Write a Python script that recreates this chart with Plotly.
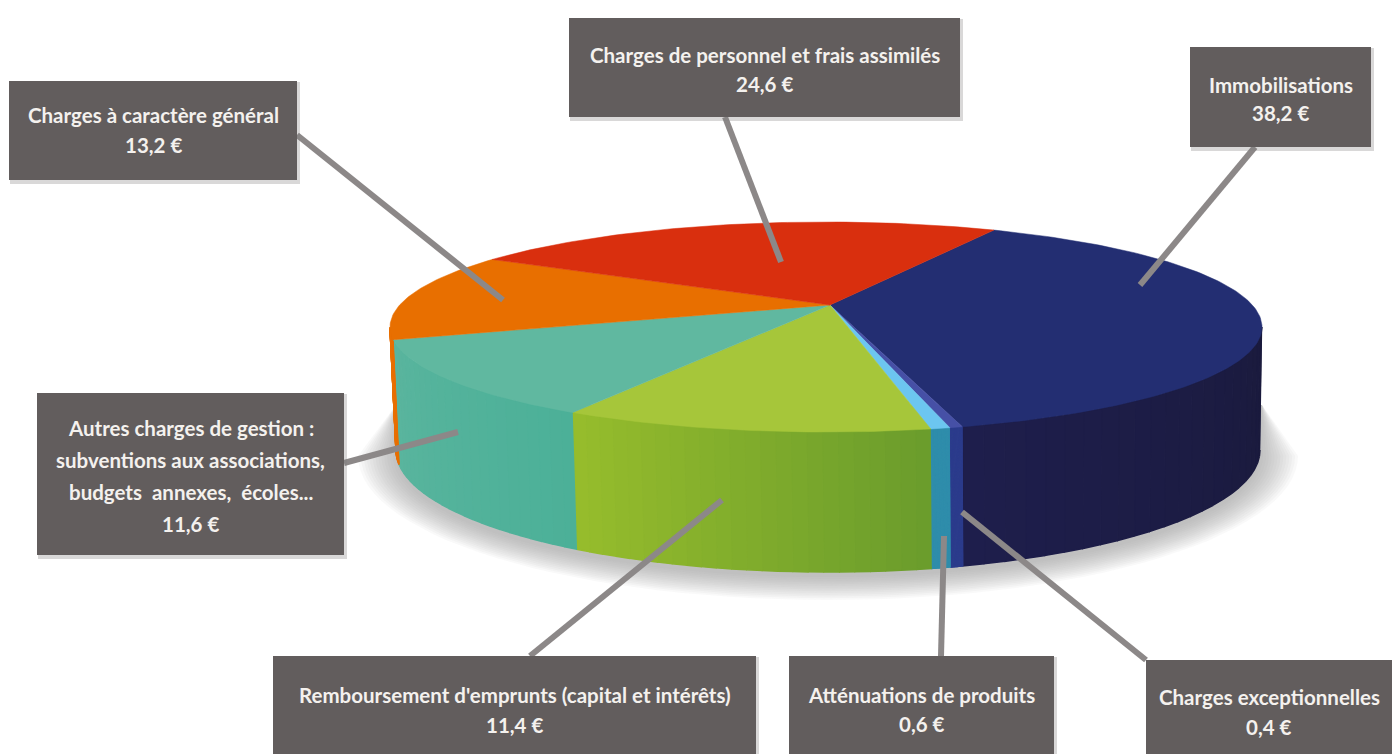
import math
import plotly.graph_objects as go

# ---------- data ----------
categories = ["Immobilisations", "Charges exceptionnelles", "Atténuations de produits",
              "Remboursement d'emprunts (capital et intérêts)",
              "Autres charges de gestion : subventions aux associations, budgets annexes, écoles...",
              "Charges à caractère général", "Charges de personnel et frais assimilés"]
values = [38.2, 0.4, 0.6, 11.4, 11.6, 13.2, 24.6]
label_lines = [["Immobilisations"], ["Charges exceptionnelles"], ["Atténuations de produits"],
               ["Remboursement d'emprunts (capital et intérêts)"],
               ["Autres charges de gestion :", "subventions aux associations,", "budgets  annexes,  écoles..."],
               ["Charges à caractère général"], ["Charges de personnel et frais assimilés"]]
top_colors = ["#232e72", "#4650a6", "#6cc6f0", "#a6c63a", "#60b8a0", "#e86f00", "#d92f0e"]
side_left = ["#1e1e4c", "#2c3c8c", "#2f8dab", "#97bd2c", "#5ab59e", "#e86f00", "#d92f0e"]
side_right = ["#1a1a3c", "#2c3c8c", "#2f8dab", "#6a9c2c", "#4cb098", "#e86f00", "#d92f0e"]

# ---------- geometry of the drawing ----------
START_DEG = 27.8
CX, CY, RX, RY = 826, 327, 436, 105
CX2, CY2, RX2, RY2 = 828, 450, 432, 122
AX, AY = 830, 305
BOXES = [(1190, 47, 1371, 147), (1146, 660, 1392, 754), (789, 656, 1054, 754), (273, 656, 756, 754),
         (37, 393, 344, 555), (9, 81, 297, 180), (569, 18, 960, 117)]
TEXT_FIRST = [85, 697, 695, 695, 428, 115, 55]
TEXT_STEP = [28, 30, 29, 30, 32, 30, 29]
LEADERS = [(1255, 147, 1140, 285), (1146, 660, 962, 512), (941, 656, 944, 536), (530, 656, 722, 500),
           (344, 463, 458, 432), (297, 135, 503, 300), (725, 117, 781, 262)]
FONT = "Lato"
FS = 20.5


def top_point(t):
    return CX + RX * math.cos(t), CY - RY * math.sin(t)


def bottom_point(t):
    return CX2 + RX2 * math.cos(t), CY2 - RY2 * math.sin(t)


def rim_param(deg):
    """Math angle t on the rim hit by a ray leaving the off-centre apex, deg clockwise from up."""
    a = math.radians(deg)
    dx, dy = math.sin(a), math.cos(a)
    ox, oy = (AX - CX) / RX, (CY - AY) / RY
    b = ox * dx + oy * dy
    s = -b + math.sqrt(b * b - (ox * ox + oy * oy - 1))
    return math.atan2(oy + s * dy, ox + s * dx)


def mix(c1, c2, f):
    p = [int(c1[i:i + 2], 16) for i in (1, 3, 5)]
    q = [int(c2[i:i + 2], 16) for i in (1, 3, 5)]
    return "rgb(%d,%d,%d)" % tuple(round(a + (b - a) * f) for a, b in zip(p, q))


fig = go.Figure()


def poly(xs, ys, color, name=None, width=0.5):
    fig.add_trace(go.Scatter(x=xs, y=ys, mode="lines", fill="toself", fillcolor=color,
                             line=dict(color="rgba(0,0,0,0)" if color.startswith("rgba") else color, width=width),
                             hoverinfo="text" if name else "skip", text=name, showlegend=False))


# soft shadow below the pie
for i in range(14):
    f = i / 13
    sx = 40 * (1 - f * 0.95)
    sy = 24 * (1 - f * 0.95)
    ts = [math.pi * (1 + k / 60) for k in range(61)]
    xs = [396] + [CX2 + (RX2 - 2 + sx) * math.cos(t) for t in ts] + [1262]
    ys = [405] + [CY2 + 6 - (RY2 - 2 + sy) * math.sin(t) for t in ts] + [405]
    poly(xs, ys, "rgba(150,150,150,0.06)")

# rim positions of the slice edges
total = sum(values)
angle = START_DEG
edges = []
for v in values:
    t0 = rim_param(angle)
    angle += v / total * 360
    t1 = rim_param(angle)
    edges.append((t0, t1 if t1 < t0 else t1 - 2 * math.pi))

# sides (only the front half of the rim shows)
for k, (t0, end) in enumerate(edges):
    hi, lo = min(t0, 0), max(end, -math.pi)
    if hi <= lo:
        continue
    n = 24
    for j in range(n):
        a = hi - (hi - lo) * j / n
        b = hi - (hi - lo) * (j + 1) / n
        pts = [a + (b - a) * m / 4 for m in range(5)]
        xs = [top_point(p)[0] for p in pts] + [bottom_point(p)[0] for p in reversed(pts)]
        ys = [top_point(p)[1] for p in pts] + [bottom_point(p)[1] for p in reversed(pts)]
        poly(xs, ys, mix(side_right[k], side_left[k], (j + 0.5) / n), width=1.5)

# top faces
for k, (t0, end) in enumerate(edges):
    n = max(4, int((t0 - end) * 60))
    pts = [t0 + (end - t0) * m / n for m in range(n + 1)]
    xs = [AX] + [top_point(p)[0] for p in pts] + [AX]
    ys = [AY] + [top_point(p)[1] for p in pts] + [AY]
    poly(xs, ys, top_colors[k], name=f"{categories[k]}: {values[k]} €")

# leaders, boxes and labels
for x0, y0, x1, y1 in LEADERS:
    fig.add_shape(type="line", x0=x0, y0=y0, x1=x1, y1=y1, line=dict(color="#8c8888", width=6))
for x0, y0, x1, y1 in BOXES:
    fig.add_shape(type="rect", x0=x0 + 1, y0=y0 + 1, x1=x1 + 3, y1=y1 + 4,
                  fillcolor="rgba(130,125,125,0.3)", line_width=0)
    fig.add_shape(type="rect", x0=x0, y0=y0, x1=x1, y1=y1, fillcolor="#625d5d", line_width=0)

for k, (x0, y0, x1, y1) in enumerate(BOXES):
    rows = label_lines[k] + [f"{values[k]:.1f}".replace(".", ",") + " €"]
    for r, row in enumerate(rows):
        fig.add_annotation(x=(x0 + x1) / 2, y=TEXT_FIRST[k] + r * TEXT_STEP[k], text=f"<b>{row}</b>",
                           showarrow=False, xanchor="center", yanchor="middle",
                           font=dict(family=FONT, size=FS, color="#f4f1ee"))

fig.update_layout(width=1392, height=754, margin=dict(l=0, r=0, t=0, b=0),
                  paper_bgcolor="white", plot_bgcolor="white", showlegend=False,
                  xaxis=dict(range=[0, 1392], visible=False, fixedrange=True),
                  yaxis=dict(range=[754, 0], visible=False, fixedrange=True))
fig.write_html("out.html", config={"displayModeBar": False},
               post_script="document.body.style.margin='0';document.body.style.overflow='hidden';")
